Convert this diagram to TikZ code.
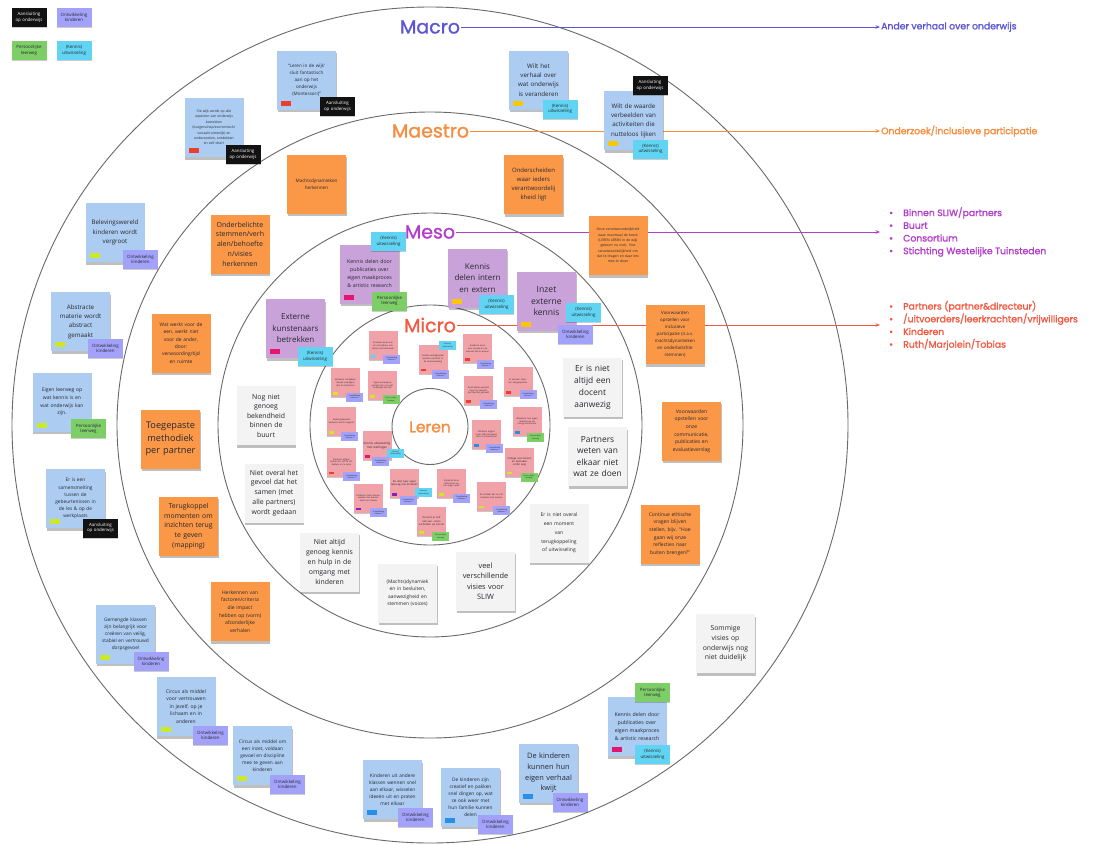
\documentclass[tikz,border=0pt]{standalone}
\usepackage{fontspec}
\setmainfont{Open Sans}
\newfontfamily\labfont{Poppins}[FakeBold=1.2]
\newfontfamily\sidefont{Poppins}[FakeBold=1.6]
\usetikzlibrary{shadows,arrows.meta}
\definecolor{cMacro}{RGB}{92,86,214}
\definecolor{cMaestro}{RGB}{248,140,62}
\definecolor{cMeso}{RGB}{180,62,204}
\definecolor{cMicro}{RGB}{244,90,66}
\definecolor{cBlue}{RGB}{172,204,242}
\definecolor{cOrange}{RGB}{250,152,72}
\definecolor{cPurp}{RGB}{201,162,218}
\definecolor{cPink}{RGB}{240,162,168}
\definecolor{cGray}{RGB}{243,243,244}
\definecolor{tPurp}{RGB}{162,162,250}
\definecolor{tGreen}{RGB}{126,206,104}
\definecolor{tCyan}{RGB}{96,212,242}
\definecolor{tBlack}{RGB}{18,18,18}
\definecolor{bRed}{RGB}{236,62,44}
\definecolor{bYellow}{RGB}{250,198,10}
\definecolor{bLime}{RGB}{205,232,40}
\definecolor{bPink}{RGB}{228,20,112}
\definecolor{bBlue}{RGB}{40,142,232}
\definecolor{bPurple}{RGB}{140,30,190}
\definecolor{ringc}{RGB}{105,105,105}
\definecolor{txt}{RGB}{40,40,45}
\newcommand\fs[2]{\fontsize{#1}{#2}\selectfont}
\newcommand\mybadge[3]{\node[badge, fill=#3, anchor=south west] (#1) at ([shift={(4,-4)}]#2.south west) {};}
\newcommand\mymbadge[3]{\node[mbadge, fill=#3, anchor=south west] (#1) at ([shift={(2,-2.5)}]#2.south west) {};}
\begin{document}
\begin{tikzpicture}[x=1pt,y=-1pt,
  ring/.style={draw=ringc, line width=0.9pt},
  conn/.style={line width=0.9pt, -{Stealth[length=4.5pt,width=3.6pt]}},
  lab/.style={inner sep=1pt, font=\labfont\fs{19}{20}},
  sidetext/.style={inner sep=0pt, anchor=west, align=left, font=\sidefont\fs{9.3}{12.7}},
  sticky/.style={rectangle, inner sep=0pt, align=center, text=txt, minimum width=59pt, minimum height=59pt, text width=56pt,
     drop shadow={shadow xshift=0.5pt, shadow yshift=-2.5pt, opacity=0.25, fill=black}},
  bnote/.style={sticky, fill=cBlue},
  onote/.style={sticky, fill=cOrange},
  pnote/.style={sticky, fill=cPurp},
  gnote/.style={sticky, fill=cGray},
  knote/.style={rectangle, inner sep=0pt, align=center, text=txt, fill=cPink, minimum width=29pt, minimum height=29pt, text width=27pt,
     font=\fs{2.2}{2.8}, drop shadow={shadow xshift=0.3pt, shadow yshift=-1.3pt, opacity=0.22, fill=black}},
  tag/.style={rectangle, inner sep=0pt, align=center, minimum width=35pt, minimum height=19pt, text width=34pt, font=\fs{4.4}{5.3},
     drop shadow={shadow xshift=0.3pt, shadow yshift=-1.2pt, opacity=0.2, fill=black}},
  tagP/.style={tag, fill=tPurp, text=txt},
  tagG/.style={tag, fill=tGreen, text=txt},
  tagC/.style={tag, fill=tCyan, text=txt},
  tagK/.style={tag, fill=tBlack, text=white},
  mtag/.style={rectangle, inner sep=0pt, align=center, minimum width=17pt, minimum height=9pt, text width=16.5pt, font=\fs{1.9}{2.3}, text=txt},
  mP/.style={mtag, fill=tPurp}, mG/.style={mtag, fill=tGreen}, mC/.style={mtag, fill=tCyan},
  badge/.style={rectangle, inner sep=0pt, minimum width=10pt, minimum height=5pt},
  mbadge/.style={rectangle, inner sep=0pt, minimum width=5pt, minimum height=2.5pt}
]
\useasboundingbox (0,0) rectangle (1111,844);
\fill[white] (0,0) rectangle (1111,844);

% rings
\coordinate (ctr) at (430,425);
\draw[ring] (ctr) circle[radius=418pt];
\draw[ring] (ctr) circle[radius=313pt];
\draw[ring] (ctr) circle[radius=212pt];
\draw[ring] (ctr) circle[radius=120pt];
\draw[ring] (430,426.5) circle[radius=38pt];

% level labels and connectors
\node[lab, text=cMacro] (macro) at (430,27) {Macro};
\node[lab, text=cMaestro] (maestro) at (430.5,131) {Maestro};
\node[lab, text=cMeso] (meso) at (430,232) {Meso};
\node[lab, text=cMicro] (micro) at (430,325) {Micro};
\node[inner sep=0pt, text=cMaestro, font=\labfont\fs{15.5}{16}] (leren) at (430,427) {Leren};
\coordinate (macroE) at (880,27);
\coordinate (maestroE) at (880,131);
\coordinate (mesoE) at (880,232);
\coordinate (microE) at (880,325);
\draw[conn, cMacro] (macro.east) -- (macroE);
\draw[conn, cMaestro] (maestro.east) -- (maestroE);
\draw[conn, cMeso] (meso.east) -- (mesoE);
\draw[conn, cMicro] (micro.east) -- (microE);
\node[sidetext, text=cMacro] (macroT) at (881,27) {Ander verhaal over onderwijs};
\node[sidetext, text=cMaestro] (maestroT) at (881,131) {Onderzoek/inclusieve participatie};
\node[sidetext, text=cMeso] (mesoT) at (889,232) {\makebox[14pt][l]{•}Binnen SLIW/partners\\\makebox[14pt][l]{•}Buurt\\\makebox[14pt][l]{•}Consortium\\\makebox[14pt][l]{•}Stichting Westelijke Tuinsteden};
\node[sidetext, text=cMicro] (microT) at (889,325.5) {\makebox[14pt][l]{•}Partners (partner\&directeur)\\\makebox[14pt][l]{•}/uitvoerders/leerkrachten/vrijwilligers\\\makebox[14pt][l]{•}Kinderen\\\makebox[14pt][l]{•}Ruth/Marjolein/Tobias};

% legend
\node[tagK] (lgK) at (29,17.5) {Aansluiting\\op onderwijs};
\node[tagP] (lgP) at (74,17.5) {Ontwikkeling\\kinderen};
\node[tagG] (lgG) at (29,50.5) {Persoonlijke\\leerweg};
\node[tagC] (lgC) at (74,50.5) {(Kennis)\\uitwisseling};

% ===== Macro ring =====
\node[bnote, font=\fs{3.4}{5.4}] (nBij) at (214,127.5) {‘De wijk wordt op alle\\aspecten van onderwijs\\betrokken\\(burgerschap/economisch/\\sociaal/ruimtelijk) en\\onderzoeken, ontdekken\\en zelf doen’};
\mybadge{nBijB}{nBij}{bRed}
\node[tagK] (nBijT) at (243,154.5) {Aansluiting\\op onderwijs};

\node[bnote, font=\fs{4.6}{7}] (nLer) at (306.5,80) {“Leren in de wijk’\\sluit fantastisch\\aan op het\\onderwijs\\(Montessori)”};
\mybadge{nLerB}{nLer}{bRed}
\node[tagK] (nLerT) at (337.5,106.5) {Aansluiting\\op onderwijs};

\node[bnote, font=\fs{6.2}{9.3}] (nWilt) at (538.5,80) {Wilt het\\verhaal over\\wat onderwijs\\is veranderen};
\mybadge{nWiltB}{nWilt}{bYellow}
\node[tagC] (nWiltT) at (560,109) {(Kennis)\\uitwisseling};

\node[bnote, font=\fs{6.2}{9.3}] (nWaarde) at (633.5,120.5) {Wilt de waarde\\verbeelden van\\activiteiten die\\nutteloos lijken};
\mybadge{nWaardeB}{nWaarde}{bYellow}
\node[tagK] (nWaardeK) at (650,85.5) {Aansluiting\\op onderwijs};
\node[tagC] (nWaardeC) at (650.5,149) {(Kennis)\\uitwisseling};

\node[bnote, font=\fs{6.2}{9.3}] (nBelev) at (115,232.5) {Belevingswereld\\kinderen wordt\\vergroot};
\mybadge{nBelevB}{nBelev}{bLime}
\node[tagP] (nBelevT) at (140.5,259.5) {Ontwikkeling\\kinderen};

\node[bnote, font=\fs{6.2}{9.3}] (nAbstr) at (80.5,321.5) {Abstracte\\materie wordt\\abstract\\gemaakt};
\mybadge{nAbstrB}{nAbstr}{bLime}
\node[tagP] (nAbstrT) at (105.5,348.5) {Ontwikkeling\\kinderen};

\node[bnote, font=\fs{5}{7.6}] (nEigen) at (62,402) {Eigen leerweg op\\wat kennis is en\\wat onderwijs kan\\zijn.};
\mybadge{nEigenB}{nEigen}{bLime}
\node[tagG] (nEigenT) at (88.5,428.5) {Persoonlijke\\leerweg};

\node[bnote, font=\fs{4.8}{7.1}] (nSamen) at (75.5,498.5) {Er is een\\samensmelting\\tussen de\\gebeurtenissen in\\de les \& op de\\werkplaats};
\mybadge{nSamenB}{nSamen}{bLime}
\node[tagK] (nSamenT) at (100.5,528) {Aansluiting\\op onderwijs};

\node[bnote, font=\fs{4.8}{7.1}] (nGemengd) at (125.5,634) {Gemengde klassen\\zijn belangrijk voor\\creëren van veilig,\\stabiel en vertrouwd\\dorpsgevoel};
\mybadge{nGemengdB}{nGemengd}{bLime}
\node[tagP] (nGemengdT) at (151,661.5) {Ontwikkeling\\kinderen};

\node[bnote, font=\fs{5}{7.6}] (nCirc1) at (186,706.5) {Circus als middel\\voor vertrouwen\\in jezelf, op je\\lichaam en in\\anderen};
\mybadge{nCirc1B}{nCirc1}{bLime}
\node[tagP] (nCirc1T) at (210.5,735.5) {Ontwikkeling\\kinderen};

\node[bnote, font=\fs{4.8}{7.1}] (nCirc2) at (262.5,755.5) {Circus als middel om\\een inzet, voldaan\\gevoel en discipline\\mee te geven aan\\kinderen};
\mybadge{nCirc2B}{nCirc2}{bLime}
\node[tagP] (nCirc2T) at (287.5,784.5) {Ontwikkeling\\kinderen};

\node[bnote, font=\fs{4.8}{7.1}] (nKlas) at (392.5,789.5) {Kinderen uit andere\\klassen wennen snel\\aan elkaar, wisselen\\ideeën uit en praten\\met elkaar};
\mybadge{nKlasB}{nKlas}{bBlue}
\node[tagP] (nKlasT) at (415.5,817) {Ontwikkeling\\kinderen};

\node[bnote, font=\fs{4.8}{7.1}] (nCrea) at (470.5,797) {De kinderen zijn\\creatief en pakken\\snel dingen op, wat\\ze ook weer met\\hun familie kunnen\\delen};
\mybadge{nCreaB}{nCrea}{bBlue}
\node[tagP] (nCreaT) at (495.5,824.5) {Ontwikkeling\\kinderen};

\node[bnote, font=\fs{7.4}{10.7}] (nVerh) at (548.5,773) {De kinderen\\kunnen hun\\eigen verhaal\\kwijt};
\mybadge{nVerhB}{nVerh}{bBlue}
\node[tagP] (nVerhT) at (570,802.5) {Ontwikkeling\\kinderen};

\node[bnote, font=\fs{5.2}{8}] (nKenB) at (637,726.5) {Kennis delen door\\publicaties over\\eigen maakproces\\\& artistic research};
\mybadge{nKenBB}{nKenB}{bPink}
\node[tagG] (nKenBG) at (652.5,692.5) {Persoonlijke\\leerweg};
\node[tagC] (nKenBC) at (652.5,754.5) {(Kennis)\\uitwisseling};

\node[gnote, font=\fs{6.8}{9.7}] (nSomm) at (725.5,643.5) {Sommige\\visies op\\onderwijs nog\\niet duidelijk};

% ===== Maestro ring =====
\node[onote, font=\fs{4.6}{7}] (nMacht) at (316.5,184) {Machtsdynamieken\\herkennen};
\node[onote, font=\fs{6}{9}] (nOndersch) at (533.5,184.5) {Onderscheiden\\waar ieders\\verantwoordelij\\kheid ligt};
\node[onote, font=\fs{3.4}{5.3}] (nOnze) at (618,245.5) {Onze verantwoordelijkheid\\waar maximaal de beste\\(LEREN LEREN in de wijk\\gebeurt nu niet). Hoe\\verantwoordelijkheid om\\dat te dragen en daar iets\\mee te doen};
\node[onote, font=\fs{7}{9.7}] (nOnderbel) at (240,244) {Onderbelichte\\stemmen/verh\\alen/behoefte\\n/visies\\herkennen};
\node[onote, font=\fs{4.9}{7.3}] (nWat) at (181,343) {Wat werkt voor de\\een, werkt niet\\voor de ander,\\door:\\verwoording/tijd\\en ruimte};
\node[onote, font=\fs{9.2}{12.5}] (nToeg) at (170.5,439) {Toegepaste\\methodiek\\per partner};
\node[onote, font=\fs{6.9}{9.7}] (nTerug) at (188.5,526) {Terugkoppel\\momenten om\\inzichten terug\\te geven\\(mapping)};
\node[onote, font=\fs{5}{7.6}] (nHerk) at (240,611.5) {Herkennen van\\factoren/criteria\\die impact\\hebben op (vorm)\\afzonderlijke\\verhalen};
\node[onote, font=\fs{4.4}{7}] (nVw1) at (675,334.5) {Voorwaarden\\opstellen voor\\inclusieve\\participatie (n.a.v.\\machtsdynamieken\\en onderbelichte\\stemmen)};
\node[onote, font=\fs{5}{7.6}] (nVw2) at (691.5,431) {Voorwaarden\\opstellen voor\\onze\\communicatie,\\publicaties en\\evaluatieverslag};
\node[onote, font=\fs{5}{7.6}] (nCont) at (670,534) {Continue ethische\\vragen blijven\\stellen, bijv. “Hoe\\gaan wij onze\\reflecties naar\\buiten brengen?”};

% ===== Meso ring =====
\node[pnote, font=\fs{5.2}{8}] (nKenP) at (369.5,274) {Kennis delen door\\publicaties over\\eigen maakproces\\\& artistic research};
\mybadge{nKenPB}{nKenP}{bPink}
\node[tagC] (nKenPC) at (388.5,241.5) {(Kennis)\\uitwisseling};
\node[tagG] (nKenPG) at (389.5,301) {Persoonlijke\\leerweg};

\node[pnote, font=\fs{8}{11.6}] (nIntern) at (477.5,278) {Kennis\\delen intern\\en extern};
\mybadge{nInternB}{nIntern}{bYellow}
\node[tagC] (nInternC) at (496.5,304.5) {(Kennis)\\uitwisseling};

\node[pnote, font=\fs{8.6}{11.6}] (nInzet) at (546.5,301) {Inzet\\externe\\kennis};
\mybadge{nInzetB}{nInzet}{bYellow}
\node[tagC] (nInzetC) at (583.5,312.5) {(Kennis)\\uitwisseling};
\node[tagP] (nInzetP) at (575.5,334.5) {Ontwikkeling\\kinderen};

\node[pnote, font=\fs{8}{11.6}] (nExt) at (295.5,328.5) {Externe\\kunstenaars\\betrekken};
\mybadge{nExtB}{nExt}{bPink}
\node[tagC] (nExtC) at (315,356.5) {(Kennis)\\uitwisseling};

\node[gnote, font=\fs{6.9}{9.5}] (nNog) at (266,415.5) {Nog niet\\genoeg\\bekendheid\\binnen de\\buurt};
\node[gnote, font=\fs{6.9}{9.9}] (nNiet) at (274,493) {Niet overal het\\gevoel dat het\\samen (met\\alle partners)\\wordt gedaan};
\node[gnote, font=\fs{6.9}{9.9}] (nNietAl) at (329.5,562) {Niet altijd\\genoeg kennis\\en hulp in de\\omgang met\\kinderen};
\node[gnote, font=\fs{4.9}{7.3}] (nMachts) at (407.5,593) {(Machts)dynamiek\\en in besluiten,\\aanwezigheid en\\stemmen (voices)};
\node[gnote, font=\fs{7.4}{10.5}] (nVeel) at (485.5,581) {veel\\verschillende\\visies voor\\SLIW};
\node[gnote, font=\fs{8.4}{12}] (nDocent) at (592.5,387) {Er is niet\\altijd een\\docent\\aanwezig};
\node[gnote, font=\fs{8.4}{11.6}] (nPartn) at (597.5,456.5) {Partners\\weten van\\elkaar niet\\wat ze doen};
\node[gnote, font=\fs{5}{8.8}] (nMoment) at (559,533) {Er is niet overal\\een moment\\van\\terugkoppeling\\of uitwisseling};

% ===== Micro ring =====
\node[knote] (m1) at (383,345.5) {Kinderen leren van en met elkaar, ook buiten het klaslokaal};
\mymbadge{m1b}{m1}{tCyan}
\node[mP] (m1p) at (391.5,359) {Ontwikkeling\\kinderen};
\node[knote] (m2) at (433,359) {Sociale vaardigheden worden versterkt in de samenwerking};
\mymbadge{m2b}{m2}{bRed}
\node[mC] (m2c) at (447.5,345.5) {(Kennis)\\uitwisseling};
\node[mP] (m2p) at (440.5,374.5) {Ontwikkeling\\kinderen};
\node[knote] (m3) at (477.5,348.5) {Kinderen leren over de wijk en de mensen die er wonen};
\mymbadge{m3b}{m3}{bRed}
\node[mP] (m3p) at (485.5,364.5) {Ontwikkeling\\kinderen};
\node[knote] (m4) at (345.5,382.5) {Kinderen ontdekken nieuwe vaardigheden en interesses};
\mymbadge{m4b}{m4}{bLime}
\node[mP] (m4p) at (354.5,397) {Ontwikkeling\\kinderen};
\node[knote] (m5) at (382.5,385.5) {Eigen leerweg op wat kennis is en wat onderwijs kan zijn};
\mymbadge{m5b}{m5}{bLime}
\node[mG] (m5g) at (391,399.5) {Persoonlijke\\leerweg};
\node[knote] (m6) at (478.5,390.5) {De kinderen worden meer bij natuurlijke talenten gehaald};
\mymbadge{m6b}{m6}{bRed}
\node[mP] (m6p) at (488.5,404.5) {Ontwikkeling\\kinderen};
\node[knote] (m7) at (518,381.5) {Er worden talenten aangesproken};
\mymbadge{m7b}{m7}{bRed}
\node[mP] (m7p) at (528,394.5) {Ontwikkeling\\kinderen};
\node[knote] (m8) at (341.5,421.5) {Belevingswereld kinderen wordt vergroot};
\mymbadge{m8b}{m8}{bLime}
\node[mP] (m8p) at (349.5,436.5) {Ontwikkeling\\kinderen};
\node[knote, font=\fs{3}{3.7}] (m9) at (377,445.5) {Kennis uitwisseling met leerlingen};
\mymbadge{m9b}{m9}{bPink}
\node[mC] (m9c) at (395.5,453) {(Kennis)\\uitwisseling};
\node[mP] (m9p) at (380.5,461.5) {Ontwikkeling\\kinderen};
\node[knote] (m10) at (486.5,434.5) {Kinderen krijgen meer zelfvertrouwen door te presenteren};
\mymbadge{m10b}{m10}{bBlue}
\node[mP] (m10p) at (494.5,448.5) {Ontwikkeling\\kinderen};
\node[knote] (m11) at (527,421.5) {Waardoor hun eigen talenten op de voorgrond komen};
\mymbadge{m11b}{m11}{bBlue}
\node[mG] (m11g) at (535.5,437.5) {Persoonlijke\\leerweg};
\node[knote] (m12) at (341.5,462) {Kinderen krijgen ruimte om zelf te ontdekken en te leren};
\mymbadge{m12b}{m12}{bRed}
\node[mP] (m12p) at (351.5,476.5) {Ontwikkeling\\kinderen};
\node[knote, font=\fs{2.6}{3.3}] (m13) at (519.5,462) {Collega voorzieners en opmaken onder weg};
\mymbadge{m13b}{m13}{bLime}
\node[mG] (m13g) at (529,477) {Persoonlijke\\leerweg};
\node[knote] (m14) at (368.5,498) {Kinderen leren samenwerken met kunstenaars en makers};
\mymbadge{m14b}{m14}{bPurple}
\node[mP] (m14p) at (378.5,512.5) {Ontwikkeling\\kinderen};
\node[knote, font=\fs{2.6}{3.3}] (m15) at (404.5,483.5) {De doel haar eigen leerweg met kinderen};
\mymbadge{m15b}{m15}{bPurple}
\node[mC] (m15c) at (423.5,492.5) {(Kennis)\\uitwisseling};
\node[mP] (m15p) at (408,500.5) {Ontwikkeling\\kinderen};
\node[knote] (m16) at (451.5,483.5) {Kinderen leren reflecteren op hun eigen werk};
\mymbadge{m16b}{m16}{bLime}
\node[mP] (m16p) at (461.5,498) {Ontwikkeling\\kinderen};
\node[knote] (m17) at (491.5,496) {Ze ontdekt dat ze met kinderen kan werken};
\mymbadge{m17b}{m17}{bLime}
\node[mP] (m17p) at (501.5,510.5) {Ontwikkeling\\kinderen};
\node[knote, font=\fs{2.6}{3.3}] (m18) at (431.5,521.5) {Ze leert er zelf ook van - leren verbinden op school};
\mymbadge{m18b}{m18}{bLime}
\node[mG] (m18g) at (440.5,536.5) {Persoonlijke\\leerweg};
\end{tikzpicture}
\end{document}
